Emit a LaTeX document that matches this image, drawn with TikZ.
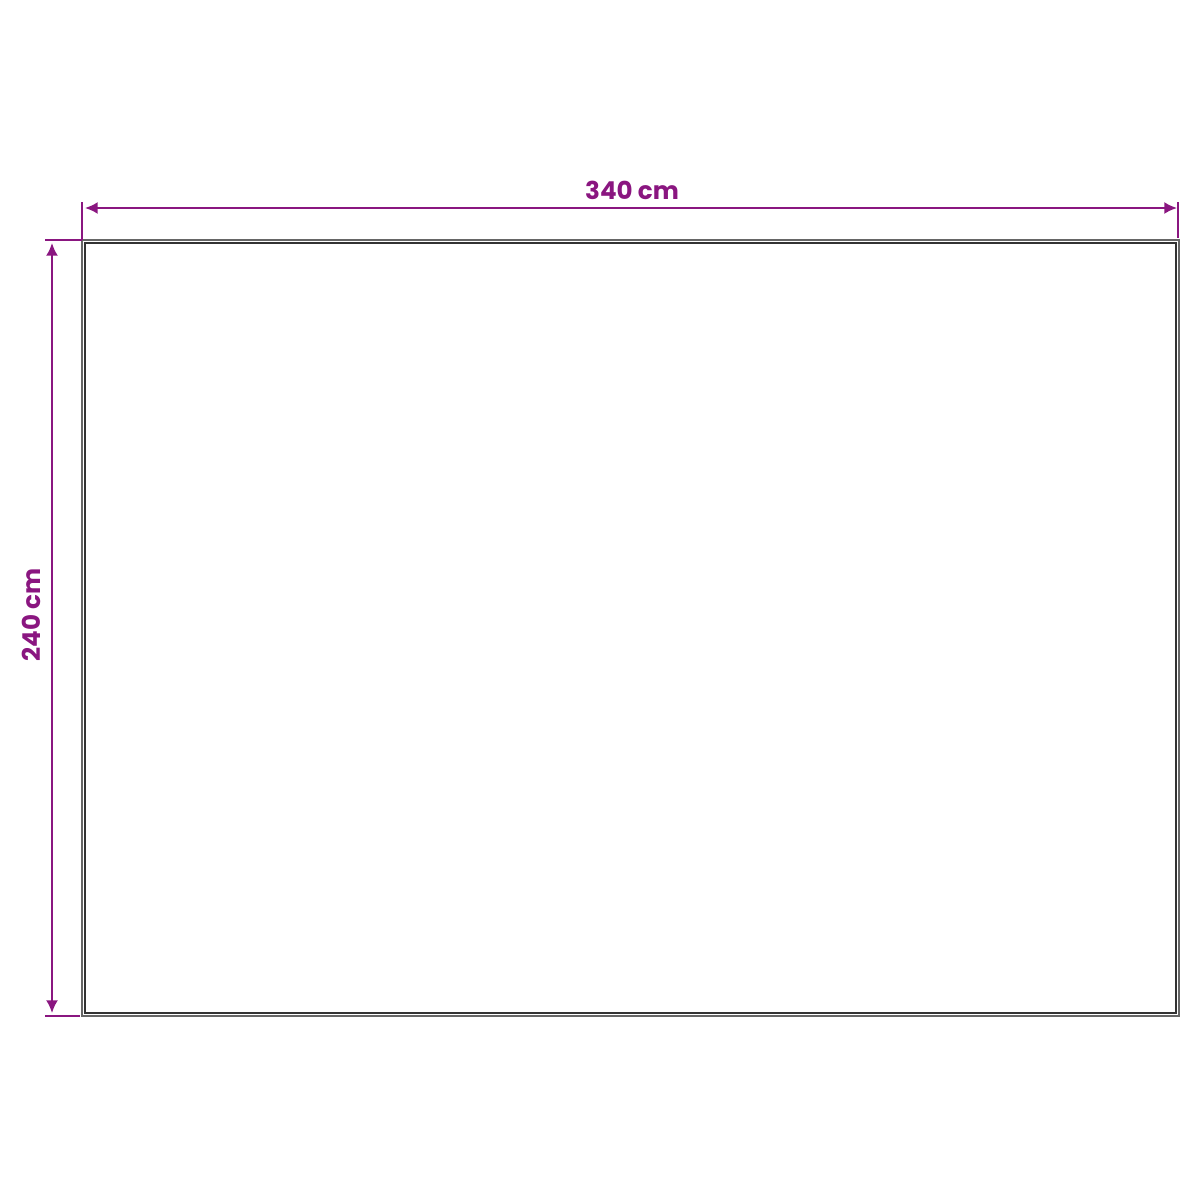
\documentclass[tikz,border=0pt]{standalone}
\usepackage{fontspec}
\setmainfont{Poppins}
\usetikzlibrary{arrows.meta}
\definecolor{masz}{RGB}{138,22,128}

\tikzset{
  dimline/.style={draw=masz,line width=0.55pt,{Latex[length=3.6pt,width=3.4pt]}-{Latex[length=3.6pt,width=3.4pt]}},
  extline/.style={draw=masz,line width=0.55pt},
  dimtext/.style={text=masz,font=\fontsize{7}{8}\selectfont\bfseries,inner sep=0pt}
}

\begin{document}
\begin{tikzpicture}[x=0.01cm,y=-0.01cm]
\useasboundingbox (0,0) rectangle (1200,1200);

% Teppich
\draw [gray!80!black,line width=0.5pt] (82,240) rectangle (1179,1016);
\draw [black!80,line width=0.6pt] (85,243) rectangle (1176,1013);

% Breite
\coordinate (tl) at (82,202); \coordinate (tlb) at (82,240);
\coordinate (tr) at (1178,202); \coordinate (trb) at (1178,238);
\draw [extline] (tl) -- (tlb); \draw [extline] (tr) -- (trb);
\coordinate (wa) at (85,208); \coordinate (wb) at (1177,208);
\draw [dimline] (wa) -- (wb);
\node [dimtext] (breite) at (632,190) {340 cm};

% Tiefe
\coordinate (lt) at (45,240); \coordinate (ltb) at (82,240);
\coordinate (lb) at (45,1016); \coordinate (lbb) at (80,1016);
\draw [extline] (lt) -- (ltb); \draw [extline] (lb) -- (lbb);
\coordinate (ha) at (52,243); \coordinate (hb) at (52,1013);
\draw [dimline] (ha) -- (hb);
\node [dimtext,rotate=90] (tiefe) at (31,615) {240 cm};

\end{tikzpicture}
\end{document}
